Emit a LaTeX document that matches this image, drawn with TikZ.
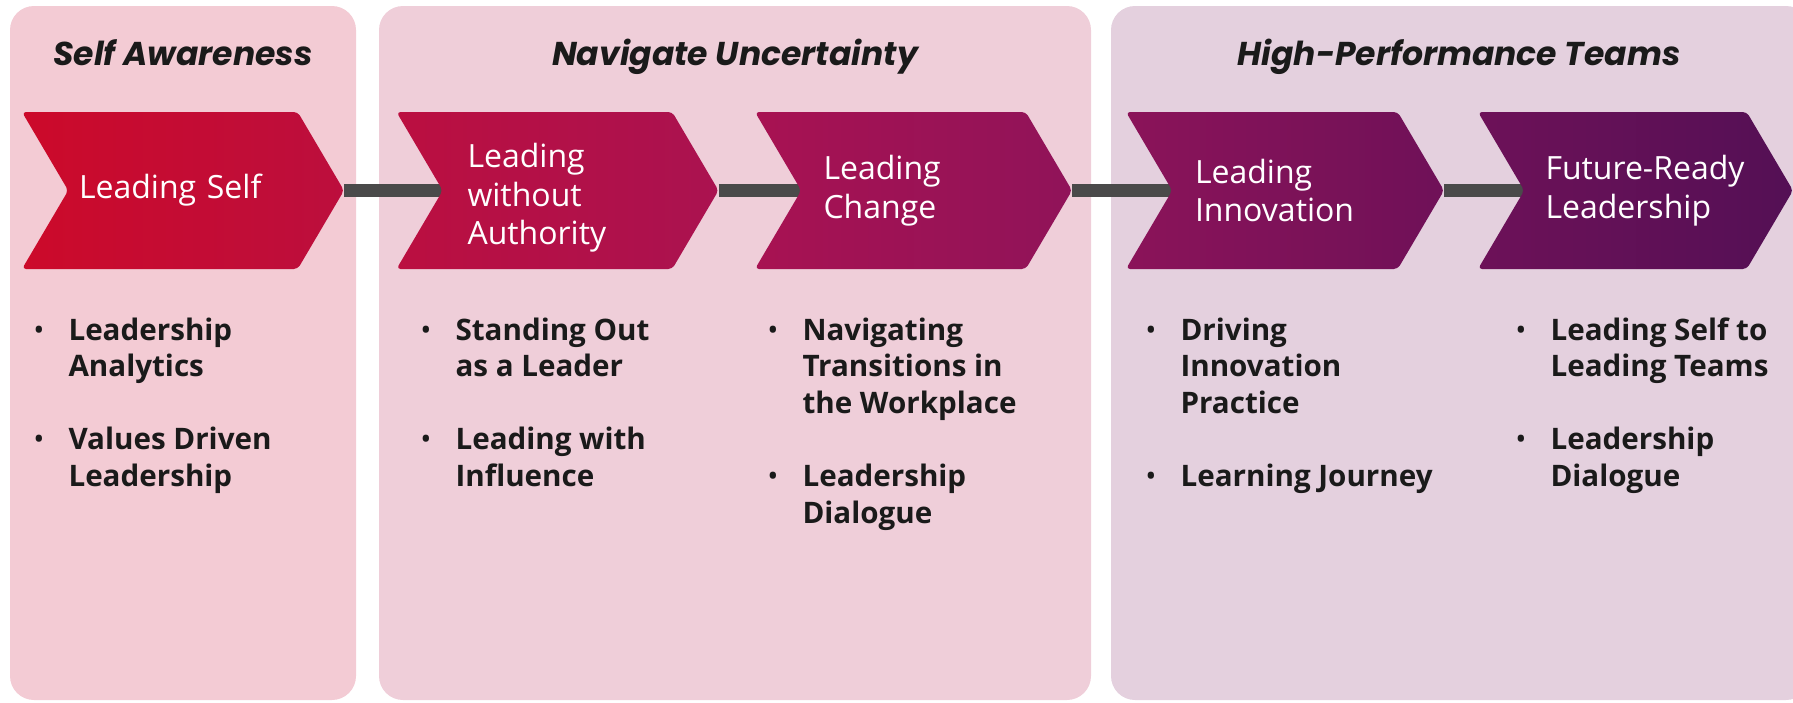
\documentclass[tikz,border=0pt]{standalone}
\usepackage{fontspec}
\setmainfont{Open Sans}
\newfontfamily\headfont{Poppins}
\usetikzlibrary{shapes.symbols,positioning,backgrounds}

\definecolor{paneA}{RGB}{243,203,212}
\definecolor{paneB}{RGB}{239,206,217}
\definecolor{paneC}{RGB}{228,208,222}
\definecolor{barcol}{RGB}{74,74,74}
\definecolor{ink}{RGB}{26,26,26}
% gradient stops along the row
\definecolor{g0}{RGB}{204,10,42}
\definecolor{g1}{RGB}{188,14,61}
\definecolor{g2}{RGB}{187,15,64}
\definecolor{g3}{RGB}{170,18,80}
\definecolor{g4}{RGB}{168,18,82}
\definecolor{g5}{RGB}{144,19,89}
\definecolor{g6}{RGB}{139,19,89}
\definecolor{g7}{RGB}{111,17,88}
\definecolor{g8}{RGB}{109,17,88}
\definecolor{g9}{RGB}{84,16,85}

\tikzset{
  pane/.style={rounded corners=12pt},
  head/.style={anchor=base, inner sep=0pt, text=ink,
    font=\headfont\bfseries\itshape\fontsize{16.5pt}{20pt}\selectfont},
  stage/.style={signal, signal to=east, signal from=west,
    signal pointer angle=119, minimum width=161pt, minimum height=78.5pt,
    inner sep=2pt, rounded corners=2pt, text width=90pt, align=left,
    text=white, font=\fontsize{16pt}{19.3pt}\selectfont},
  points/.style={anchor=base west, inner sep=0pt, text=ink,
    font=\bfseries\fontsize{14.8pt}{18.3pt}\selectfont},
  bar/.style={draw=barcol, line width=6.5pt},
}

\newcommand{\dotitem}{{\mdseries\textbullet}}

\begin{document}
\begin{tikzpicture}[x=0.5pt, y=-0.5pt]
    \useasboundingbox (0,0) rectangle (1793,702);

    % Section headings
    \node (h1) [head] at (183,65) {Self Awareness};
    \node (h2) [head] at (735,65) {Navigate Uncertainty};
    \node (h3) [head] at (1459,65) {High-Performance Teams};

    % Programme stages
    \node (s1) [stage, left color=g0, right color=g1, text width=104pt] at (183,190.5) {Leading Self};
    \node (s2) [stage, left color=g2, right color=g3] at (557.5,190.5)
        {\raisebox{-4pt}[\height][\depth]{\begin{tabular}{@{}l@{}}Leading\\ without\\ Authority\end{tabular}}};
    \node (s3) [stage, left color=g4, right color=g5, minimum width=158.5pt] at (913.5,190.5) {Leading\\ Change};
    \node (s4) [stage, left color=g6, right color=g7, minimum width=159pt] at (1285,190.5) {Leading\\ Innovation};
    \node (s5) [stage, left color=g8, right color=g9, minimum width=157.5pt] at (1635.5,190.5) {\mbox{Future-Ready}\\ Leadership};

    % Topics under each stage
    \node (p1) [points] at (33,340) {\begin{tabular}[t]{@{}l@{\hspace{12pt}}l@{}}
        \dotitem & Leadership\\ & Analytics\\[18.3pt]
        \dotitem & Values Driven\\ & Leadership\end{tabular}};
    \node (p2) [points] at (420,340) {\begin{tabular}[t]{@{}l@{\hspace{12pt}}l@{}}
        \dotitem & Standing Out\\ & as a Leader\\[18.3pt]
        \dotitem & Leading with\\ & Influence\end{tabular}};
    \node (p3) [points] at (767,340) {\begin{tabular}[t]{@{}l@{\hspace{12pt}}l@{}}
        \dotitem & Navigating\\ & Transitions in\\ & the Workplace\\[18.3pt]
        \dotitem & Leadership\\ & Dialogue\end{tabular}};
    \node (p4) [points] at (1145,340) {\begin{tabular}[t]{@{}l@{\hspace{12pt}}l@{}}
        \dotitem & Driving\\ & Innovation\\ & Practice\\[18.3pt]
        \dotitem & Learning Journey\end{tabular}};
    \node (p5) [points] at (1515,340) {\begin{tabular}[t]{@{}l@{\hspace{12pt}}l@{}}
        \dotitem & Leading Self to\\ & Leading Teams\\[18.3pt]
        \dotitem & Leadership\\ & Dialogue\end{tabular}};

    \begin{scope}[on background layer]
        % Panels
        \fill[pane, paneA] (10,6) rectangle (356,700);
        \fill[pane, paneB] (379,6) rectangle (1091,700);
        \fill[pane, paneC] (1111,6) rectangle (1810,700);

        % Links between stages
        \draw[bar] (s1.east) -- (s2.west);
        \draw[bar] (s2.east) -- (s3.west);
        \draw[bar] (s3.east) -- (s4.west);
        \draw[bar] (s4.east) -- (s5.west);
    \end{scope}
\end{tikzpicture}
\end{document}
